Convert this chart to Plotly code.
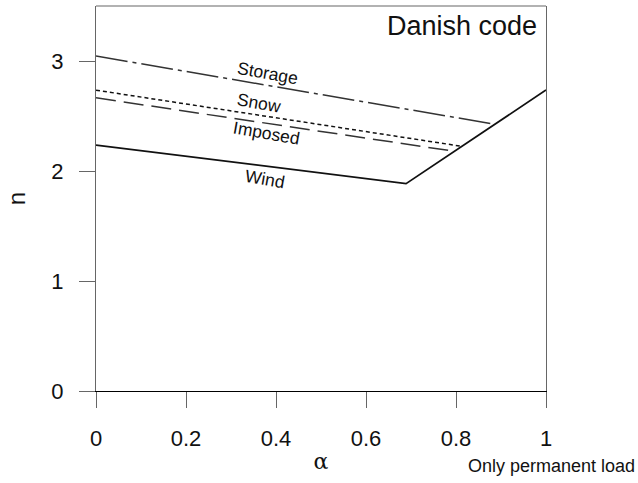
import plotly.graph_objects as go

# Data
wind_x = [0.0, 0.689, 1.0]
wind_y = [2.236, 1.885, 2.736]
imposed_x = [0.0, 0.795]
imposed_y = [2.665, 2.18]
snow_x = [0.0, 0.812]
snow_y = [2.735, 2.225]
storage_x = [0.0, 0.887]
storage_y = [3.045, 2.425]

label_names = ["Storage", "Snow", "Imposed", "Wind"]
label_x = [0.380, 0.362, 0.378, 0.376]
label_y = [2.89, 2.62, 2.35, 1.93]

x_ticks = [0, 0.2, 0.4, 0.6, 0.8, 1]
x_tick_text = ["0", "0.2", "0.4", "0.6", "0.8", "1"]
y_ticks = [0, 1, 2, 3]
y_tick_text = ["0", "1", "2", "3"]

LINE = "#333333"
AX = "#666666"
FONT = "Liberation Sans, Arial, sans-serif"

fig = go.Figure()
fig.add_trace(go.Scatter(x=storage_x, y=storage_y, mode="lines",
                         line=dict(color=LINE, width=1.5, dash="32px,5px,4px,5px")))
fig.add_trace(go.Scatter(x=snow_x, y=snow_y, mode="lines",
                         line=dict(color="#111111", width=1.5, dash="4px,3px")))
fig.add_trace(go.Scatter(x=imposed_x, y=imposed_y, mode="lines",
                         line=dict(color=LINE, width=1.5, dash="20px,8px")))
fig.add_trace(go.Scatter(x=wind_x, y=wind_y, mode="lines",
                         line=dict(color="#111111", width=1.7)))

for name, lx, ly in zip(label_names, label_x, label_y):
    fig.add_annotation(x=lx, y=ly, text=name, showarrow=False, textangle=10,
                       font=dict(family=FONT, size=17.5, color="#111111"))

fig.add_annotation(x=0.985, y=3.5, yshift=-3, text="Danish code", showarrow=False,
                   xanchor="right", yanchor="top",
                   font=dict(family=FONT, size=27, color="#111111"))
fig.add_annotation(xref="paper", yref="paper", x=1.013, y=0, yshift=-75,
                   text="Only permanent load", showarrow=False,
                   xanchor="center", yanchor="middle",
                   font=dict(family=FONT, size=18, color="#111111"))

# top border of the frame
fig.add_shape(type="line", xref="paper", yref="paper", x0=0, x1=1, y0=1, y1=1,
              line=dict(color=AX, width=1.2))

fig.update_layout(
    width=638, height=483,
    margin=dict(l=96, r=92, t=6, b=92),
    paper_bgcolor="white", plot_bgcolor="white",
    showlegend=False,
    font=dict(family=FONT, color="#111111"),
    xaxis=dict(range=[0, 1], tickvals=x_ticks, ticktext=x_tick_text,
               showgrid=False, zeroline=False,
               showline=True, linecolor="#000000", linewidth=1.2, mirror=False,
               ticks="outside", ticklen=16, tickcolor=AX, tickwidth=1.2,
               ticklabelstandoff=11,
               tickfont=dict(family=FONT, size=22, color="#111111"),
               title=dict(text="α", font=dict(family="DejaVu Serif, serif", size=22, color="#111111"),
                          standoff=4)),
    yaxis=dict(range=[0, 3.5], tickvals=y_ticks, ticktext=y_tick_text,
               showgrid=False, zeroline=False,
               showline=True, linecolor=AX, linewidth=1.2, mirror=True,
               ticks="outside", ticklen=16, tickcolor=AX, tickwidth=1.2,
               ticklabelstandoff=11,
               tickfont=dict(family=FONT, size=22, color="#111111"),
               title=dict(text="n", font=dict(family=FONT, size=24, color="#111111"),
                          standoff=18)),
)

fig.write_html("out.html")
